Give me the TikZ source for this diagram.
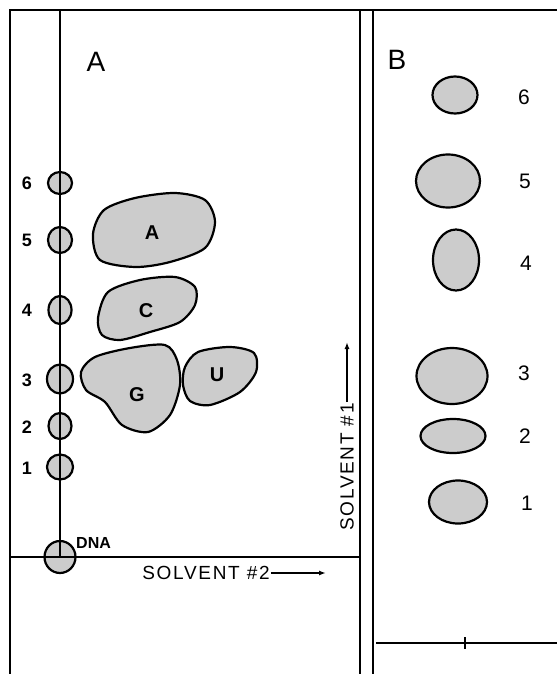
\documentclass[tikz,border=0pt]{standalone}
\usepackage{fontspec}
\setmainfont{Liberation Sans}
\usetikzlibrary{shapes.geometric,arrows.meta}

\begin{document}
\begin{tikzpicture}[x=1pt,y=-1pt,
    frame/.style={line width=1.6pt},
    spot/.style={draw,ellipse,line width=2.2pt,fill=gray!40,inner sep=0pt},
    blob/.style={draw,line width=2.2pt,fill=gray!40},
    num/.style={font=\fontsize{18}{20}\selectfont\bfseries},
    bnum/.style={font=\fontsize{21}{24}\selectfont},
    big/.style={font=\fontsize{28}{30}\selectfont},
    solv/.style={font=\fontsize{19}{21}\selectfont\addfontfeature{LetterSpace=9},inner sep=1pt}]
  \useasboundingbox (0,0) rectangle (557,674);

  % frames
  \draw[frame] (10,674) -- (10,10) -- (557,10);
  \draw[frame] (360,10) -- (360,674);
  \draw[frame] (373,10) -- (373,674);
  \draw[frame] (376,643) -- (557,643);
  \draw[frame] (465,637) -- (465,649);

  % panel A
  \node[big] (labA) at (96,62) {A};
  \node[spot,minimum width=24,minimum height=22] (a6) at (60,183) {};
  \node[spot,minimum width=24,minimum height=26] (a5) at (60,240) {};
  \node[spot,minimum width=23,minimum height=28] (a4) at (60,310) {};
  \node[spot,minimum width=26,minimum height=29] (a3) at (60,379) {};
  \node[spot,minimum width=23,minimum height=26] (a2) at (60,426) {};
  \node[spot,minimum width=26,minimum height=25] (a1) at (60,467) {};
  \node[spot,minimum width=31,minimum height=32] (dna) at (60,557) {};
  \coordinate (top) at (60,10);
  \coordinate (hl) at (10,557);
  \coordinate (hr) at (360,557);
  \draw[frame] (top) -- (dna.center);
  \draw[frame] (hl) -- (hr);

  \node[num] at (27,183) {6};
  \node[num] at (27,240) {5};
  \node[num] at (27,310) {4};
  \node[num] at (27,380) {3};
  \node[num] at (27,427) {2};
  \node[num] at (27,468) {1};
  \node[font=\fontsize{16}{18}\selectfont\bfseries,anchor=south west,inner sep=0pt] (dnalab) at (76,549) {DNA};

  \draw[blob] plot[smooth cycle] coordinates {(93,234) (104,210) (135,198) (175,193)
    (205,200) (215,222) (205,248) (170,262) (135,267) (100,260)};
  \node[num,font=\fontsize{20}{22}\selectfont\bfseries] (nA) at (152,233) {A};
  \draw[blob] plot[smooth cycle] coordinates {(98,318) (108,292) (140,280) (175,277)
    (195,287) (195,305) (180,322) (150,332) (120,340) (102,335)};
  \node[num,font=\fontsize{20}{22}\selectfont\bfseries] (nC) at (146,311) {C};
  \draw[blob] plot[smooth cycle] coordinates {(81,372) (95,357) (130,348) (165,345)
    (177,360) (180,385) (170,415) (148,432) (122,425) (105,402) (86,390)};
  \node[num,font=\fontsize{20}{22}\selectfont\bfseries] (nG) at (137,395) {G};
  \draw[blob] plot[smooth cycle] coordinates {(185,367) (198,352) (230,347) (254,353)
    (256,372) (240,392) (210,405) (190,401) (183,385)};
  \node[num,font=\fontsize{20}{22}\selectfont\bfseries] (nU) at (217,375) {U};

  \node[solv] (s2) at (206,573) {SOLVENT \#2};
  \coordinate (s2tip) at (326,573);
  \draw[line width=1.4pt,-{Latex[length=7pt,width=5pt]}] (s2.east) -- (s2tip);
  \node[solv,rotate=90] (s1) at (347,467) {SOLVENT \#1};
  \coordinate (s1tip) at (347,342);
  \draw[line width=1.4pt,-{Latex[length=7pt,width=5pt]}] (s1.east) -- (s1tip);

  % panel B
  \node[big] (labB) at (397,60) {B};
  \node[spot,minimum width=45,minimum height=37] (b6) at (455,95) {};
  \node[spot,minimum width=64,minimum height=53] (b5) at (448,181) {};
  \node[spot,minimum width=46,minimum height=61] (b4) at (456,260) {};
  \node[spot,minimum width=71,minimum height=56] (b3) at (452,376) {};
  \node[spot,minimum width=65,minimum height=34] (b2) at (453,436) {};
  \node[spot,minimum width=58,minimum height=43] (b1) at (458,502) {};
  \node[bnum] at (524,97) {6};
  \node[bnum] at (525,181) {5};
  \node[bnum] at (526,263) {4};
  \node[bnum] at (524,373) {3};
  \node[bnum] at (525,436) {2};
  \node[bnum] at (527,503) {1};
\end{tikzpicture}
\end{document}
